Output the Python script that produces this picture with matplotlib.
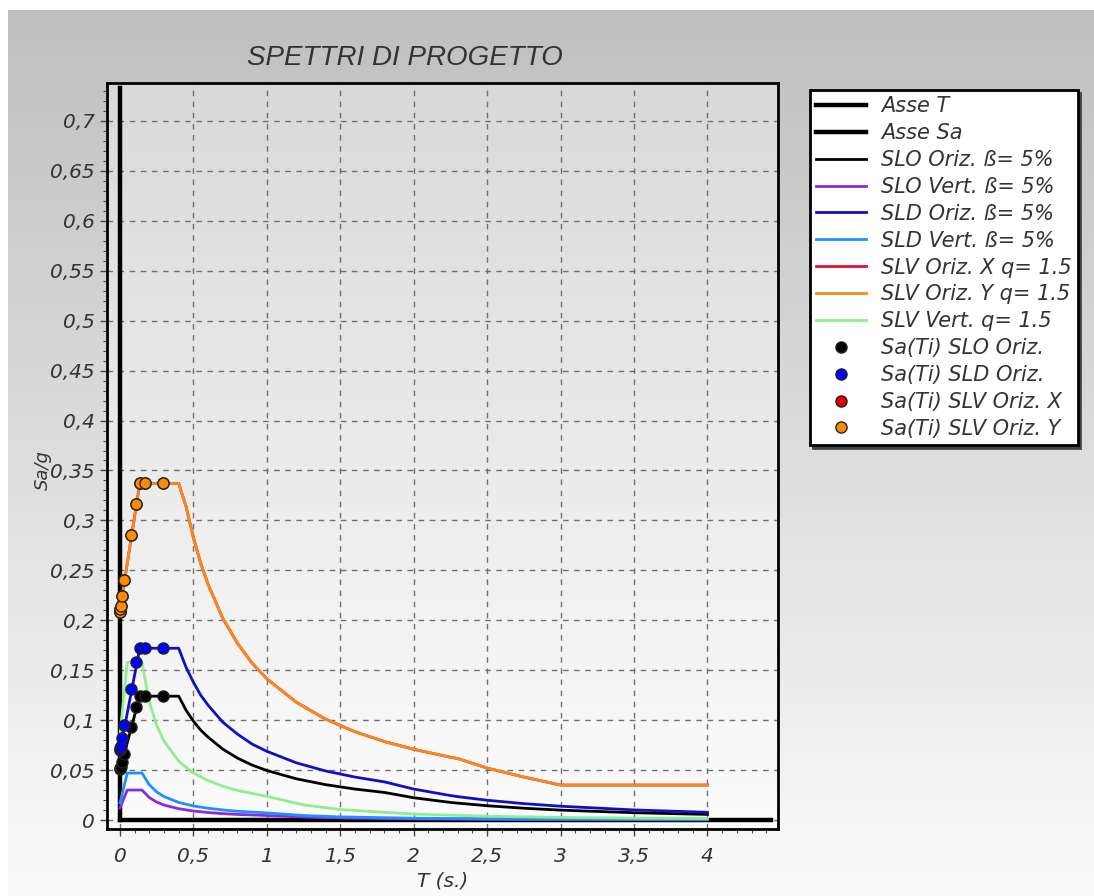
import matplotlib
matplotlib.use('Agg')  # no display

import numpy as np
import matplotlib.pyplot as plt
from matplotlib.ticker import MultipleLocator, FuncFormatter

# periods (s) for the horizontal spectra
t_oriz = [0.0, 0.135, 0.40, 0.45, 0.5, 0.55, 0.6, 0.7, 0.8, 0.9, 1.0, 1.2, 1.4,
          1.6, 1.8, 2.0, 2.25, 2.3, 2.5, 2.75, 3.0, 3.5, 4.0]
slo_oriz = [0.050, 0.124, 0.124, 0.110, 0.099, 0.090, 0.083, 0.071, 0.062, 0.055,
            0.0496, 0.0413, 0.0354, 0.031, 0.0276, 0.0223, 0.0176, 0.0169, 0.0143,
            0.0118, 0.0099, 0.0073, 0.0056]
sld_oriz = [0.069, 0.172, 0.172, 0.153, 0.138, 0.125, 0.115, 0.098, 0.086, 0.076,
            0.0688, 0.0573, 0.0491, 0.043, 0.0382, 0.031, 0.0245, 0.0234, 0.0198,
            0.0164, 0.0138, 0.0101, 0.0077]
slv_oriz_x = [0.210, 0.337, 0.337, 0.314, 0.283, 0.257, 0.236, 0.202, 0.177, 0.157,
              0.1415, 0.118, 0.101, 0.0884, 0.0786, 0.0708, 0.0629, 0.0615, 0.052,
              0.043, 0.035, 0.035, 0.035]
slv_oriz_y = [0.210, 0.337, 0.337, 0.314, 0.283, 0.257, 0.236, 0.202, 0.177, 0.157,
              0.1415, 0.118, 0.101, 0.0884, 0.0786, 0.0708, 0.0629, 0.0615, 0.052,
              0.043, 0.035, 0.035, 0.035]

# periods (s) for the vertical spectra
t_vert = [0.0, 0.05, 0.15, 0.2, 0.25, 0.3, 0.4, 0.5, 0.6, 0.7, 0.8, 1.0, 1.25,
          1.5, 2.0, 2.5, 3.0, 3.5, 4.0]
slo_vert = [0.012, 0.030, 0.030, 0.0225, 0.018, 0.015, 0.0113, 0.009, 0.0075,
            0.0064, 0.0056, 0.0045, 0.0029, 0.002, 0.0011, 0.0007, 0.0005, 0.0004, 0.0003]
sld_vert = [0.017, 0.047, 0.047, 0.0353, 0.0282, 0.0235, 0.0176, 0.0141, 0.0118,
            0.0101, 0.0088, 0.0071, 0.0045, 0.0031, 0.0018, 0.0011, 0.0008, 0.0006, 0.0004]
slv_vert = [0.085, 0.158, 0.158, 0.1185, 0.095, 0.079, 0.059, 0.047, 0.0395,
            0.0339, 0.0296, 0.0237, 0.0152, 0.0105, 0.0059, 0.0038, 0.0026, 0.0019, 0.0015]

# Sa(Ti) points of the structure modes
t_modes = [0.001, 0.003, 0.005, 0.014, 0.029, 0.077, 0.111, 0.138, 0.172, 0.296]
sa_slo = [0.051, 0.052, 0.053, 0.058, 0.066, 0.093, 0.113, 0.124, 0.124, 0.124]
sa_sld = [0.070, 0.072, 0.074, 0.082, 0.095, 0.131, 0.158, 0.172, 0.172, 0.172]
sa_slv_x = [0.208, 0.211, 0.214, 0.224, 0.240, 0.285, 0.316, 0.337, 0.337, 0.337]
sa_slv_y = [0.208, 0.211, 0.214, 0.224, 0.240, 0.285, 0.316, 0.337, 0.337, 0.337]

# axes lines
asse_t_x = [0.0, 4.43]
asse_sa_y = [0.0, 0.733]

fig = plt.figure(figsize=(10.94, 8.96), dpi=100, facecolor='white')

# figure background gradient (grey at top, white at bottom)
bg = fig.add_axes([8 / 1094, 0, 1 - 8 / 1094, 1 - 10 / 896])
grad = np.linspace(0, 1, 256).reshape(-1, 1)
bg.imshow(grad, cmap=matplotlib.colors.LinearSegmentedColormap.from_list(
    'bgc', ['#bfbfbf', '#fbfbfb']), aspect='auto', extent=(0, 1, 0, 1))
bg.set_axis_off()

pos = [107 / 1094, 1 - 829 / 896, (778 - 107) / 1094, (829 - 83) / 896]
abg = fig.add_axes(pos)
abg.imshow(grad, cmap=matplotlib.colors.LinearSegmentedColormap.from_list(
    'abc', ['#d9d9d9', '#fcfcfc']), aspect='auto', extent=(0, 1, 0, 1))
abg.set_axis_off()

ax = fig.add_axes(pos)
ax.set_facecolor('none')

ax.plot(asse_t_x, [0, 0], color='black', lw=3.2, label='Asse T', zorder=2)
ax.plot([0, 0], asse_sa_y, color='black', lw=3.2, label='Asse Sa', zorder=2)
ax.plot(t_oriz, slo_oriz, color='black', lw=2.0, label='SLO Oriz. ß= 5%', zorder=3)
ax.plot(t_vert, slo_vert, color='#8a2be2', lw=2.0, label='SLO Vert. ß= 5%', zorder=3)
ax.plot(t_oriz, sld_oriz, color='#1010c0', lw=2.0, label='SLD Oriz. ß= 5%', zorder=3)
ax.plot(t_vert, sld_vert, color='#1e90ff', lw=2.0, label='SLD Vert. ß= 5%', zorder=3)
ax.plot(t_oriz, slv_oriz_x, color='#dc143c', lw=2.0, label='SLV Oriz. X q= 1.5', zorder=3)
ax.plot(t_oriz, slv_oriz_y, color='#f5891e', lw=2.0, label='SLV Oriz. Y q= 1.5', zorder=3)
ax.plot(t_vert, slv_vert, color='#90ee90', lw=2.0, label='SLV Vert. q= 1.5', zorder=3)

mk = dict(ls='none', marker='o', ms=8, mec='#222222', mew=1.0, zorder=4)
ax.plot(t_modes, sa_slo, mfc='black', label='Sa(Ti) SLO Oriz.', **mk)
ax.plot(t_modes, sa_sld, mfc='#0000ff', label='Sa(Ti) SLD Oriz.', **mk)
ax.plot(t_modes, sa_slv_x, mfc='#e00000', label='Sa(Ti) SLV Oriz. X', **mk)
ax.plot(t_modes, sa_slv_y, mfc='#ff8c00', label='Sa(Ti) SLV Oriz. Y', **mk)

ax.set_xlim(-0.088, 4.48)
ax.set_ylim(-0.009, 0.738)

ax.xaxis.set_major_locator(MultipleLocator(0.5))
ax.xaxis.set_minor_locator(MultipleLocator(0.1))
ax.yaxis.set_major_locator(MultipleLocator(0.05))
ax.yaxis.set_minor_locator(MultipleLocator(0.01))
fmt = FuncFormatter(lambda v, p: f"{v:g}".replace('.', ','))
ax.xaxis.set_major_formatter(fmt)
ax.yaxis.set_major_formatter(fmt)

ax.grid(True, which='major', color='#707070', ls=(0, (4, 4)), lw=1.0, zorder=1)
ax.tick_params(which='major', direction='out', length=5, width=1, color='#444444',
               labelsize=14.5, labelcolor='#333333', pad=4)
ax.tick_params(axis='x', which='major', pad=8)
ax.tick_params(which='minor', direction='out', length=3, width=0.8, color='#444444')
for lab in ax.get_xticklabels() + ax.get_yticklabels():
    lab.set_fontstyle('italic')
for s in ax.spines.values():
    s.set_linewidth(2)
    s.set_color('black')

ax.set_xlabel('T (s.)', fontsize=14.5, style='italic', color='#333333', labelpad=4)
ax.text(-0.096, 0.481, 'Sa/g', transform=ax.transAxes, rotation=90, fontsize=13,
        style='italic', color='#333333', ha='center', va='center')

fig.text(0.37, 1 - 58 / 896, 'SPETTRI DI PROGETTO', ha='center', va='center',
         fontsize=20, style='italic', color='#333333',
         family=['Liberation Sans Narrow', 'Liberation Sans', 'DejaVu Sans'])

leg = fig.legend(loc='upper left', bbox_to_anchor=(810 / 1094, 1 - 90 / 896),
                 bbox_transform=fig.transFigure, fontsize=15, frameon=True,
                 fancybox=False, edgecolor='black', facecolor='white', framealpha=1,
                 shadow={'color': '#444444', 'alpha': 1}, handlelength=2.4,
                 handletextpad=0.7, labelspacing=0.33, borderpad=0.3,
                 borderaxespad=0, numpoints=1)
leg.get_frame().set_linewidth(2)
for t in leg.get_texts():
    t.set_fontstyle('italic')
    t.set_color('#333333')

plt.savefig('out.png', dpi=100)
print("Saved plot as out.png")
